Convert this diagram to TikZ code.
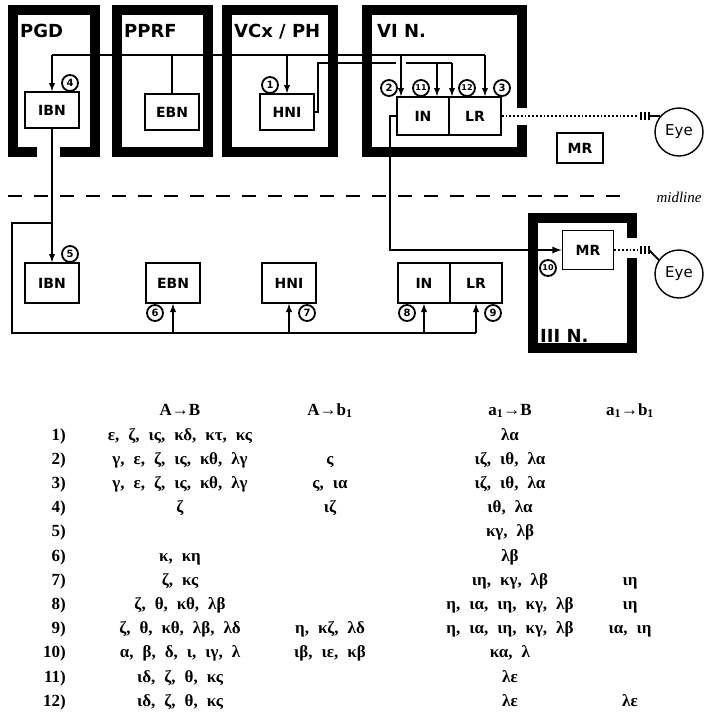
\documentclass[tikz,border=0pt]{standalone}
\usepackage{fontspec}
\setmainfont{DejaVu Sans}
\newfontfamily\grkfont{Liberation Serif}
\newfontfamily\midfont{Liberation Serif}
\usetikzlibrary{calc}

\newcommand{\tabfont}{\grkfont\fontsize{17}{17}\selectfont\bfseries\spaceskip=9pt\relax}

% one row of the table: number, A->B, A->b1, a1->B, a1->b1
\newcommand{\tabrow}[5]{%
  \node[tab, anchor=base east] (r#1)  at (66,  {440+24.2*(#1-1)}) {#1)};
  \node[tab, anchor=base]      (r#1a) at (180, {440+24.2*(#1-1)}) {#2};
  \node[tab, anchor=base]      (r#1b) at (330, {440+24.2*(#1-1)}) {#3};
  \node[tab, anchor=base]      (r#1c) at (510, {440+24.2*(#1-1)}) {#4};
  \node[tab, anchor=base]      (r#1d) at (630, {440+24.2*(#1-1)}) {#5};
}

\begin{document}
\begin{tikzpicture}[x=1pt, y=-1pt,
        every node/.style={font=\bfseries},
        wall/.style={draw=black, line width=10pt},
        nbox/.style={
          draw, line width=1.6pt, fill=white,
          minimum width=54pt, minimum height=36pt, inner sep=0pt,
          font=\fontsize{14}{14}\selectfont\bfseries,
        },
        lowbox/.style={nbox, minimum height=40pt},
        reg/.style={anchor=base west, inner sep=0pt,
          font=\fontsize{18}{18}\selectfont\bfseries},
        num/.style={
          circle, draw, line width=1.8pt, fill=white,
          minimum size=16pt, inner sep=0pt,
          font=\fontsize{10}{10}\selectfont\bfseries,
        },
        num2/.style={num, font=\fontsize{8}{8}\selectfont\bfseries},
        wire/.style={line width=1.8pt},
        arr/.style={wire, -latex},
        dotline/.style={line width=1.8pt, dotted},
        tick/.style={line width=1.4pt},
        eye/.style={circle, draw, line width=1.4pt, minimum size=48pt,
          inner sep=0pt, font=\fontsize{15}{15}\selectfont},
        tab/.style={inner sep=0pt, font=\tabfont},
      ]
      \fill[white] (0,0) rectangle (705,724);
      \useasboundingbox (0,0) rectangle (705,724);

      % nuclei
      \draw[wall] (37,152) -- (13,152) -- (13,10) -- (95,10) -- (95,152) -- (60,152);
      \draw[wall] (117,10) rectangle (208,152);
      \draw[wall] (227,10) rectangle (333,152);
      \draw[wall] (522,108) -- (522,10) -- (367,10) -- (367,152) -- (522,152) -- (522,125);
      \draw[wall] (632,238) -- (632,218) -- (533,218) -- (533,348) -- (632,348) -- (632,258);

      \node[reg] (pgd)   at (20,37)  {PGD};
      \node[reg] (pprf)  at (124,37) {PPRF};
      \node[reg] (vcx)   at (234,37) {VCx / PH};
      \node[reg] (sixn)  at (377,37) {VI N.};
      \node[reg] (three) at (540,342) {III N.};

      % midline
      \coordinate (ml1) at (8,196);
      \coordinate (ml2) at (628,196);
      \draw[wire, dash pattern=on 14pt off 12pt] (ml1) -- (ml2);
      \node[font=\midfont\itshape\fontsize{15}{15}\selectfont] (mid) at (679,197) {midline};

      % cells
      \node[nbox] (ibnA) at (52,110)  {IBN};
      \node[nbox] (ebnA) at (172,112) {EBN};
      \node[nbox] (hniA) at (287,112) {HNI};
      \node[nbox, minimum width=52pt, minimum height=38pt] (inA) at (423,116) {IN};
      \node[nbox, minimum width=52pt, minimum height=38pt] (lrA) at (475,116) {LR};
      \node[nbox, minimum width=46pt, minimum height=30pt] (mrA) at (580,148) {MR};

      \node[lowbox] (ibnB) at (52,283)  {IBN};
      \node[lowbox] (ebnB) at (173,283) {EBN};
      \node[lowbox] (hniB) at (289,283) {HNI};
      \node[lowbox, minimum width=52pt] (inB) at (424,283) {IN};
      \node[lowbox, minimum width=52pt] (lrB) at (476,283) {LR};
      \node[nbox, minimum width=51pt, minimum height=39pt] (mrB) at (588,250) {MR};

      \node[eye] (eyeA) at (679,132) {Eye};
      \node[eye] (eyeB) at (679,274) {Eye};

      % upper bus
      \coordinate (busW) at (52,55);
      \coordinate (busE) at (485,55);
      \coordinate (d2)   at (401,55);
      \draw[wire] (busW) -- (busE);
      \draw[arr]  (busW) -- (ibnA.north);
      \draw[wire] (ebnA.north |- busW) -- (ebnA.north);
      \draw[arr]  (hniA.north |- busW) -- (hniA.north);
      \draw[arr]  (d2) -- (d2 |- inA.north);
      \draw[arr]  (busE) -- (busE |- lrA.north);

      % HNI to IN and LR
      \coordinate (hB)   at (318,63);
      \coordinate (gapL) at (396,63);
      \coordinate (gapR) at (406,63);
      \coordinate (d11)  at (437,63);
      \coordinate (d12)  at (452,63);
      \draw[wire] (hniA.east) -- (hniA.east -| hB) -- (hB) -- (gapL);
      \draw[wire] (gapR) -- (d12);
      \draw[arr]  (d11) -- (d11 |- inA.north);
      \draw[arr]  (d12) -- (d12 |- lrA.north);

      % IN to MR
      \coordinate (dn) at (390,250);
      \draw[arr, line width=2.2pt] (inA.west) -- (inA.west -| dn) -- (dn) -- (mrB.west);

      % IBN down and lower bus
      \draw[arr] (ibnA.south) -- (ibnB.north);
      \coordinate (jn)  at (52,223);
      \coordinate (lbW) at (12,333);
      \draw[wire] (jn) -- (jn -| lbW) -- (lbW) -- (lbW -| lrB.south);
      \draw[arr] (ebnB.south |- lbW) -- (ebnB.south);
      \draw[arr] (hniB.south |- lbW) -- (hniB.south);
      \draw[arr] (inB.south |- lbW) -- (inB.south);
      \draw[arr] (lrB.south |- lbW) -- (lrB.south);

      % to the eyes
      \coordinate (tkA) at (638,116);
      \coordinate (tkB) at (638,250);
      \draw[dotline] (lrA.east) -- (tkA);
      \draw[dotline] (mrB.east) -- (tkB);
      \foreach \t in {3,7,11} {
        \draw[tick] ($(tkA)+(\t,-4)$) -- ++(0,8);
        \draw[tick] ($(tkB)+(\t,-4)$) -- ++(0,8);
      }
      \draw[wire] ($(tkA)+(11,0)$) -- (eyeA.140);
      \draw[wire] ($(tkB)+(11,0)$) -- (eyeB.145);

      % numbered sites
      \node[num]  (n4)  at (70,83)   {4};
      \node[num]  (n1)  at (270,85)  {1};
      \node[num]  (n2)  at (389,88)  {2};
      \node[num2] (n11) at (421,88)  {11};
      \node[num2] (n12) at (467,88)  {12};
      \node[num]  (n3)  at (502,88)  {3};
      \node[num]  (n5)  at (70,254)  {5};
      \node[num]  (n6)  at (155,313) {6};
      \node[num]  (n7)  at (307,313) {7};
      \node[num]  (n8)  at (407,313) {8};
      \node[num]  (n9)  at (493,313) {9};
      \node[num2] (n10) at (548,268) {10};

      % table
      \node[tab, anchor=base] (hAB) at (180,415) {A→B};
      \node[tab, anchor=base] (hAb) at (330,415) {A→b\textsubscript{1}};
      \node[tab, anchor=base] (haB) at (510,415) {a\textsubscript{1}→B};
      \node[tab, anchor=base] (hab) at (630,415) {a\textsubscript{1}→b\textsubscript{1}};

      \tabrow{1}{ε, ζ, ις, κδ, κτ, κς}{}{λα}{}
      \tabrow{2}{γ, ε, ζ, ις, κθ, λγ}{ς}{ιζ, ιθ, λα}{}
      \tabrow{3}{γ, ε, ζ, ις, κθ, λγ}{ς, ια}{ιζ, ιθ, λα}{}
      \tabrow{4}{ζ}{ιζ}{ιθ, λα}{}
      \tabrow{5}{}{}{κγ, λβ}{}
      \tabrow{6}{κ, κη}{}{λβ}{}
      \tabrow{7}{ζ, κς}{}{ιη, κγ, λβ}{ιη}
      \tabrow{8}{ζ, θ, κθ, λβ}{}{η, ια, ιη, κγ, λβ}{ιη}
      \tabrow{9}{ζ, θ, κθ, λβ, λδ}{η, κζ, λδ}{η, ια, ιη, κγ, λβ}{ια, ιη}
      \tabrow{10}{α, β, δ, ι, ιγ, λ}{ιβ, ιε, κβ}{κα, λ}{}
      \tabrow{11}{ιδ, ζ, θ, κς}{}{λε}{}
      \tabrow{12}{ιδ, ζ, θ, κς}{}{λε}{λε}
    \end{tikzpicture}
\end{document}
